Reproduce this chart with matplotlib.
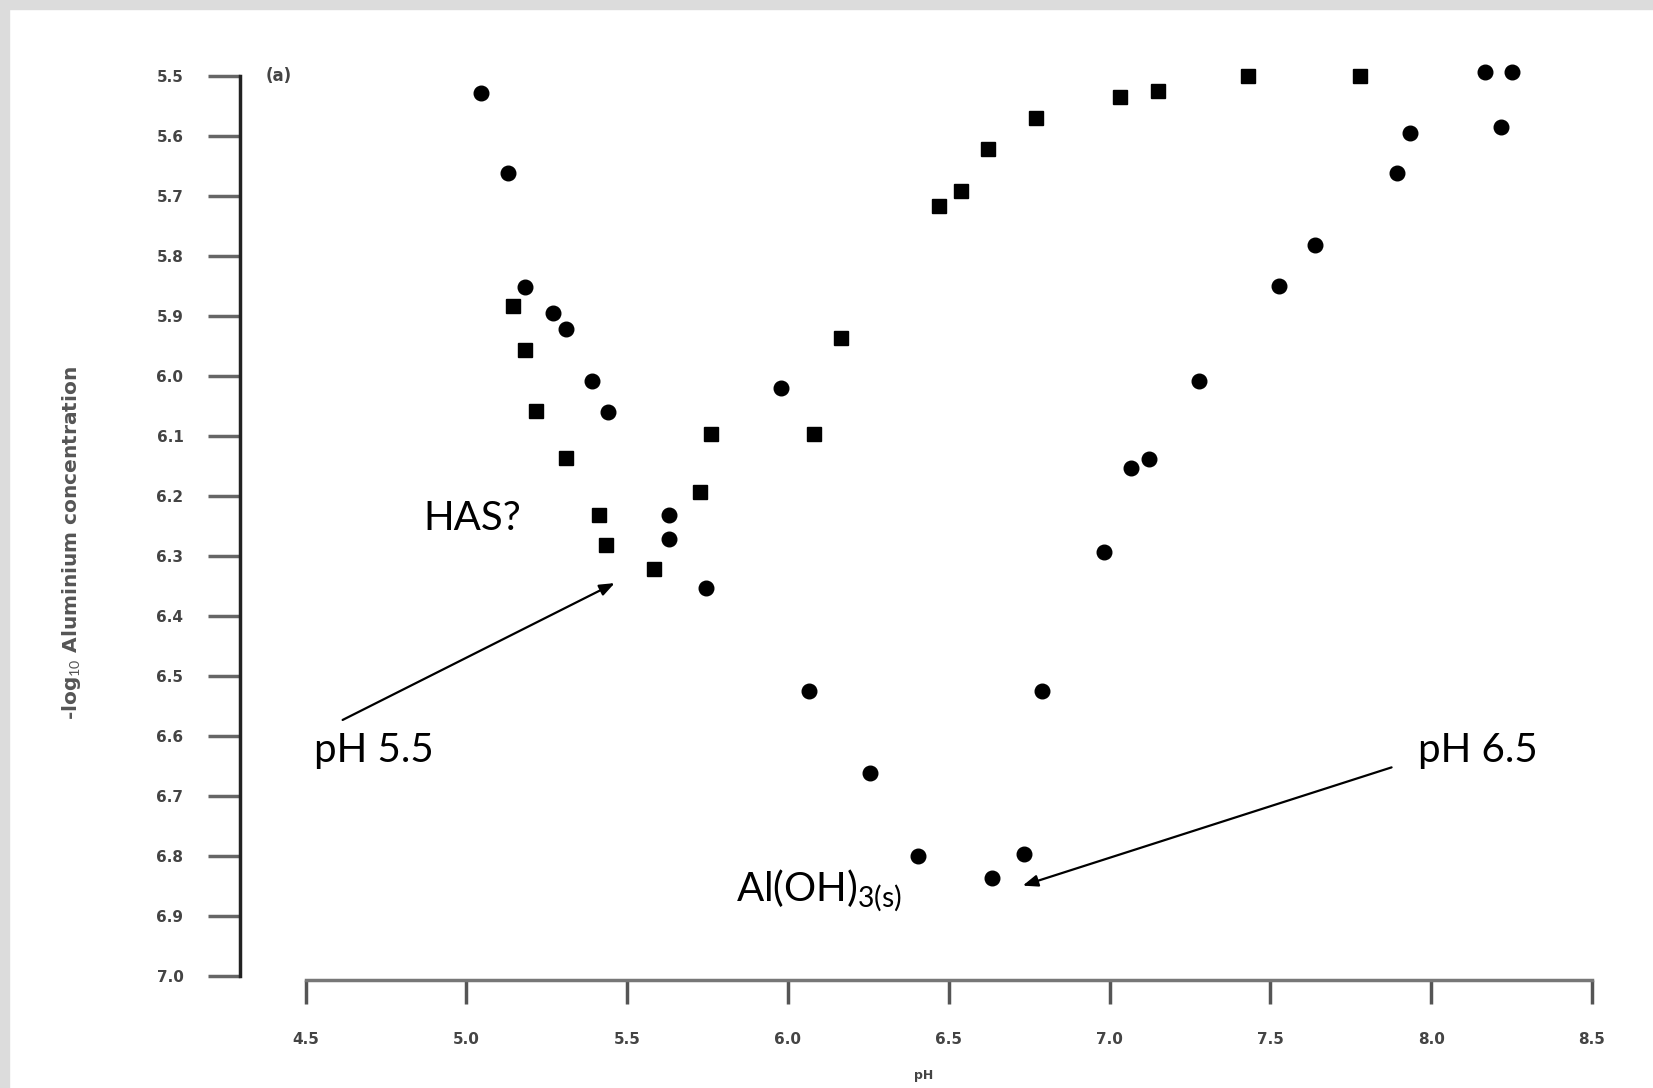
import matplotlib
matplotlib.use("Agg")
import matplotlib.pyplot as plt
from matplotlib.patches import Rectangle

# data
ph_sq = [5.146, 5.182, 5.215, 5.310, 5.411, 5.434, 5.582, 5.726, 5.762,
         6.080, 6.166, 6.470, 6.539, 6.621, 6.772, 7.031, 7.152, 7.431, 7.779]
al_sq = [5.883, 5.957, 6.059, 6.136, 6.231, 6.282, 6.322, 6.194, 6.097,
         6.097, 5.936, 5.716, 5.691, 5.621, 5.570, 5.535, 5.526, 5.500, 5.500]

ph_ci = [5.044, 5.130, 5.182, 5.270, 5.310, 5.392, 5.441, 5.631, 5.631, 5.746,
         5.979, 6.064, 6.254, 6.405, 6.634, 6.733, 6.789,
         8.169, 8.251, 8.218, 7.933, 7.893, 7.638, 7.526, 7.277, 7.123, 7.067, 6.982]
al_ci = [5.528, 5.662, 5.851, 5.895, 5.922, 6.008, 6.060, 6.231, 6.271, 6.354,
         6.020, 6.524, 6.661, 6.800, 6.837, 6.796, 6.524,
         5.493, 5.493, 5.586, 5.595, 5.662, 5.781, 5.850, 6.008, 6.138, 6.153, 6.294]

x_ticks = [4.5, 5.0, 5.5, 6.0, 6.5, 7.0, 7.5, 8.0, 8.5]
y_ticks = [5.5, 5.6, 5.7, 5.8, 5.9, 6.0, 6.1, 6.2, 6.3, 6.4, 6.5, 6.6, 6.7, 6.8, 6.9, 7.0]

plt.rcParams["mathtext.fontset"] = "custom"
plt.rcParams["mathtext.rm"] = "Lato"

fig = plt.figure(figsize=(16.53, 10.88), dpi=100)
fig.patches.append(Rectangle((0, 1 - 9 / 1088), 1, 9 / 1088, transform=fig.transFigure,
                             color="#dcdcdc", zorder=0))
fig.patches.append(Rectangle((0, 0), 9 / 1653, 1, transform=fig.transFigure,
                             color="#dcdcdc", zorder=0))

ax = fig.add_axes([228 / 1568, 1 - 930 / 1032, (1525 - 228) / 1568, (930 - 43.5) / 1032])
ax.set_xlim(4.297, 8.549)
ax.set_ylim(7.007, 5.45)

ax.plot(ph_sq, al_sq, ls="none", marker="s", ms=10.5, color="black")
ax.plot(ph_ci, al_ci, ls="none", marker="o", ms=10.5, color="black")

for s in ("top", "right"):
    ax.spines[s].set_visible(False)
ax.spines["left"].set_bounds(5.5, 7.0)
ax.spines["left"].set_color("#222222")
ax.spines["left"].set_linewidth(2.5)
ax.spines["bottom"].set_bounds(4.5, 8.5)
ax.spines["bottom"].set_color("#777777")
ax.spines["bottom"].set_linewidth(2.5)

ax.set_xticks(x_ticks)
ax.set_xticklabels([f"{v:.1f}" for v in x_ticks])
ax.set_yticks(y_ticks)
ax.set_yticklabels([f"{v:.1f}" for v in y_ticks])
ax.tick_params(axis="y", direction="out", length=23, width=2.5, color="#666666",
               pad=18, labelsize=11, labelcolor="#444444")
ax.tick_params(axis="x", direction="out", length=17, width=2.5, color="#555555",
               pad=20, labelsize=11, labelcolor="#444444")
for lab in ax.get_xticklabels() + ax.get_yticklabels():
    lab.set_fontweight("bold")

ax.set_xlabel("pH", fontsize=9, fontweight="bold", color="#444444", labelpad=16)
ax.set_ylabel(r"-log$_{\mathrm{10}}$ Aluminium concentration", fontsize=14.5,
              fontweight="bold", color="#555555")
ax.yaxis.set_label_coords(-0.115, 0.468)
ax.text(4.375, 5.5, "(a)", fontsize=12, fontweight="bold", color="#444444", va="center")

tf = dict(fontsize=29, family="Lato", color="black")
ax.text(5.018, 6.238, "HAS?", ha="center", va="center", **tf)
ax.text(4.526, 6.624, "pH 5.5", ha="left", va="center", **tf)
ax.text(7.959, 6.624, "pH 6.5", ha="left", va="center", **tf)
ax.text(5.838, 6.875, r"Al(OH)$_{\mathrm{3(s)}}$", ha="left", va="baseline", **tf)

arrow = dict(arrowstyle="-|>,head_length=0.9,head_width=0.35", color="black", lw=1.6,
             shrinkA=0, shrinkB=0)
ax.annotate("", xy=(5.461, 6.345), xytext=(4.615, 6.573), arrowprops=arrow)
ax.annotate("", xy=(6.730, 6.849), xytext=(7.877, 6.652), arrowprops=arrow)

fig.savefig("out.png", dpi=100)
